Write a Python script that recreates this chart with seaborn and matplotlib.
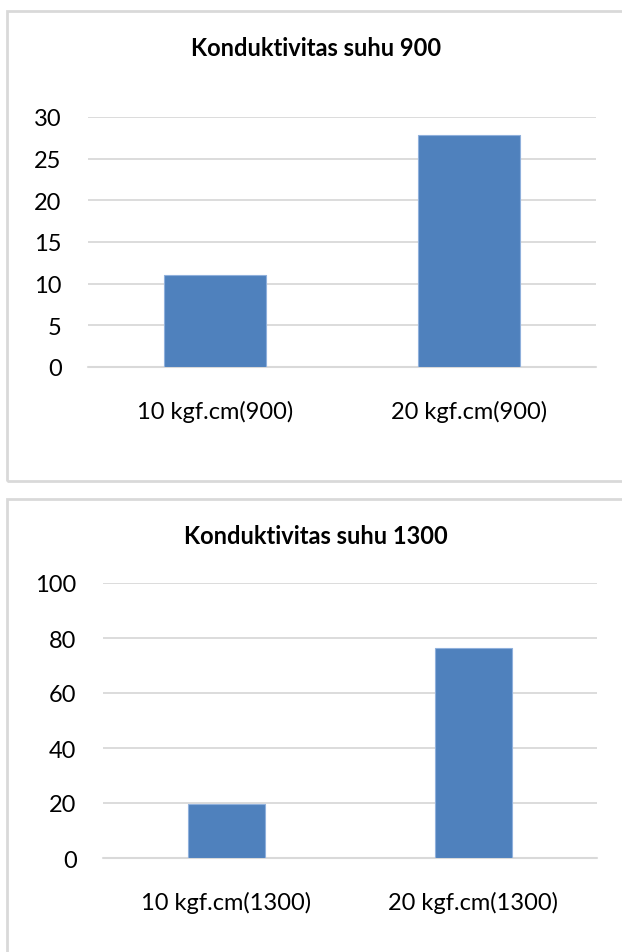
import matplotlib.pyplot as plt
import matplotlib.patches as mpatches
import pandas as pd
import seaborn as sns

# data
labels_900 = ["10 kgf.cm(900)", "20 kgf.cm(900)"]
values_900 = [11.1, 27.9]
labels_1300 = ["10 kgf.cm(1300)", "20 kgf.cm(1300)"]
values_1300 = [19.5, 76.4]

yticks_900 = [0, 5, 10, 15, 20, 25, 30]
yticks_1300 = [0, 20, 40, 60, 80, 100]

W, H = 622, 953
BAR = "#4f81bd"
GRID = "#d9d9d9"

sns.set_theme(style="white")
plt.rcParams["font.family"] = ["Lato", "DejaVu Sans"]

fig = plt.figure(figsize=(W / 100, H / 100), dpi=100)


def px_box(x0, y0, x1, y1):
    # pixel box (top-left origin) -> figure fraction rect
    return [x0 / W, 1 - y1 / H, (x1 - x0) / W, (y1 - y0) / H]


def panel_border(x0, y0, x1, y1):
    l, b, w, h = px_box(x0, y0, x1, y1)
    fig.patches.append(mpatches.Rectangle((l, b), w, h, transform=fig.transFigure,
                                          fill=False, edgecolor=GRID, linewidth=2))


def draw(rect, labels, values, yticks, width, title, title_y):
    ax = fig.add_axes(px_box(*rect))
    df = pd.DataFrame({"cat": labels, "val": values})
    sns.barplot(data=df, x="cat", y="val", color=BAR, width=width,
                saturation=1, edgecolor="#8fb0dc", linewidth=0.8, ax=ax, zorder=3)
    ax.set_ylim(yticks[0], yticks[-1])
    ax.set_xlim(-0.5, len(labels) - 0.5)
    ax.set_yticks(yticks)
    ax.set(xlabel="", ylabel="")
    ax.yaxis.grid(True, color=GRID, linewidth=1.3, zorder=0)
    ax.set_axisbelow(True)
    for s in ax.spines.values():
        s.set_visible(False)
    ax.axhline(yticks[0], color=GRID, linewidth=1.5, zorder=1, clip_on=False)
    ax.tick_params(axis="y", length=0, pad=19, labelsize=17, labelcolor="black")
    ax.tick_params(axis="x", length=0, pad=24, labelsize=17, labelcolor="black")
    fig.text(316 / W, 1 - title_y / H, title,
             ha="center", va="center", fontsize=17, fontweight="bold", color="black")
    return ax


panel_border(7.5, 12, 640, 482)
panel_border(7.5, 500, 640, 980)

draw((88, 118, 596, 368), labels_900, values_900, yticks_900, 0.4,
     "Konduktivitas suhu 900", 48)
draw((103, 584, 597, 859), labels_1300, values_1300, yticks_1300, 0.31,
     "Konduktivitas suhu 1300", 537)

fig.savefig("out.png", dpi=100)
